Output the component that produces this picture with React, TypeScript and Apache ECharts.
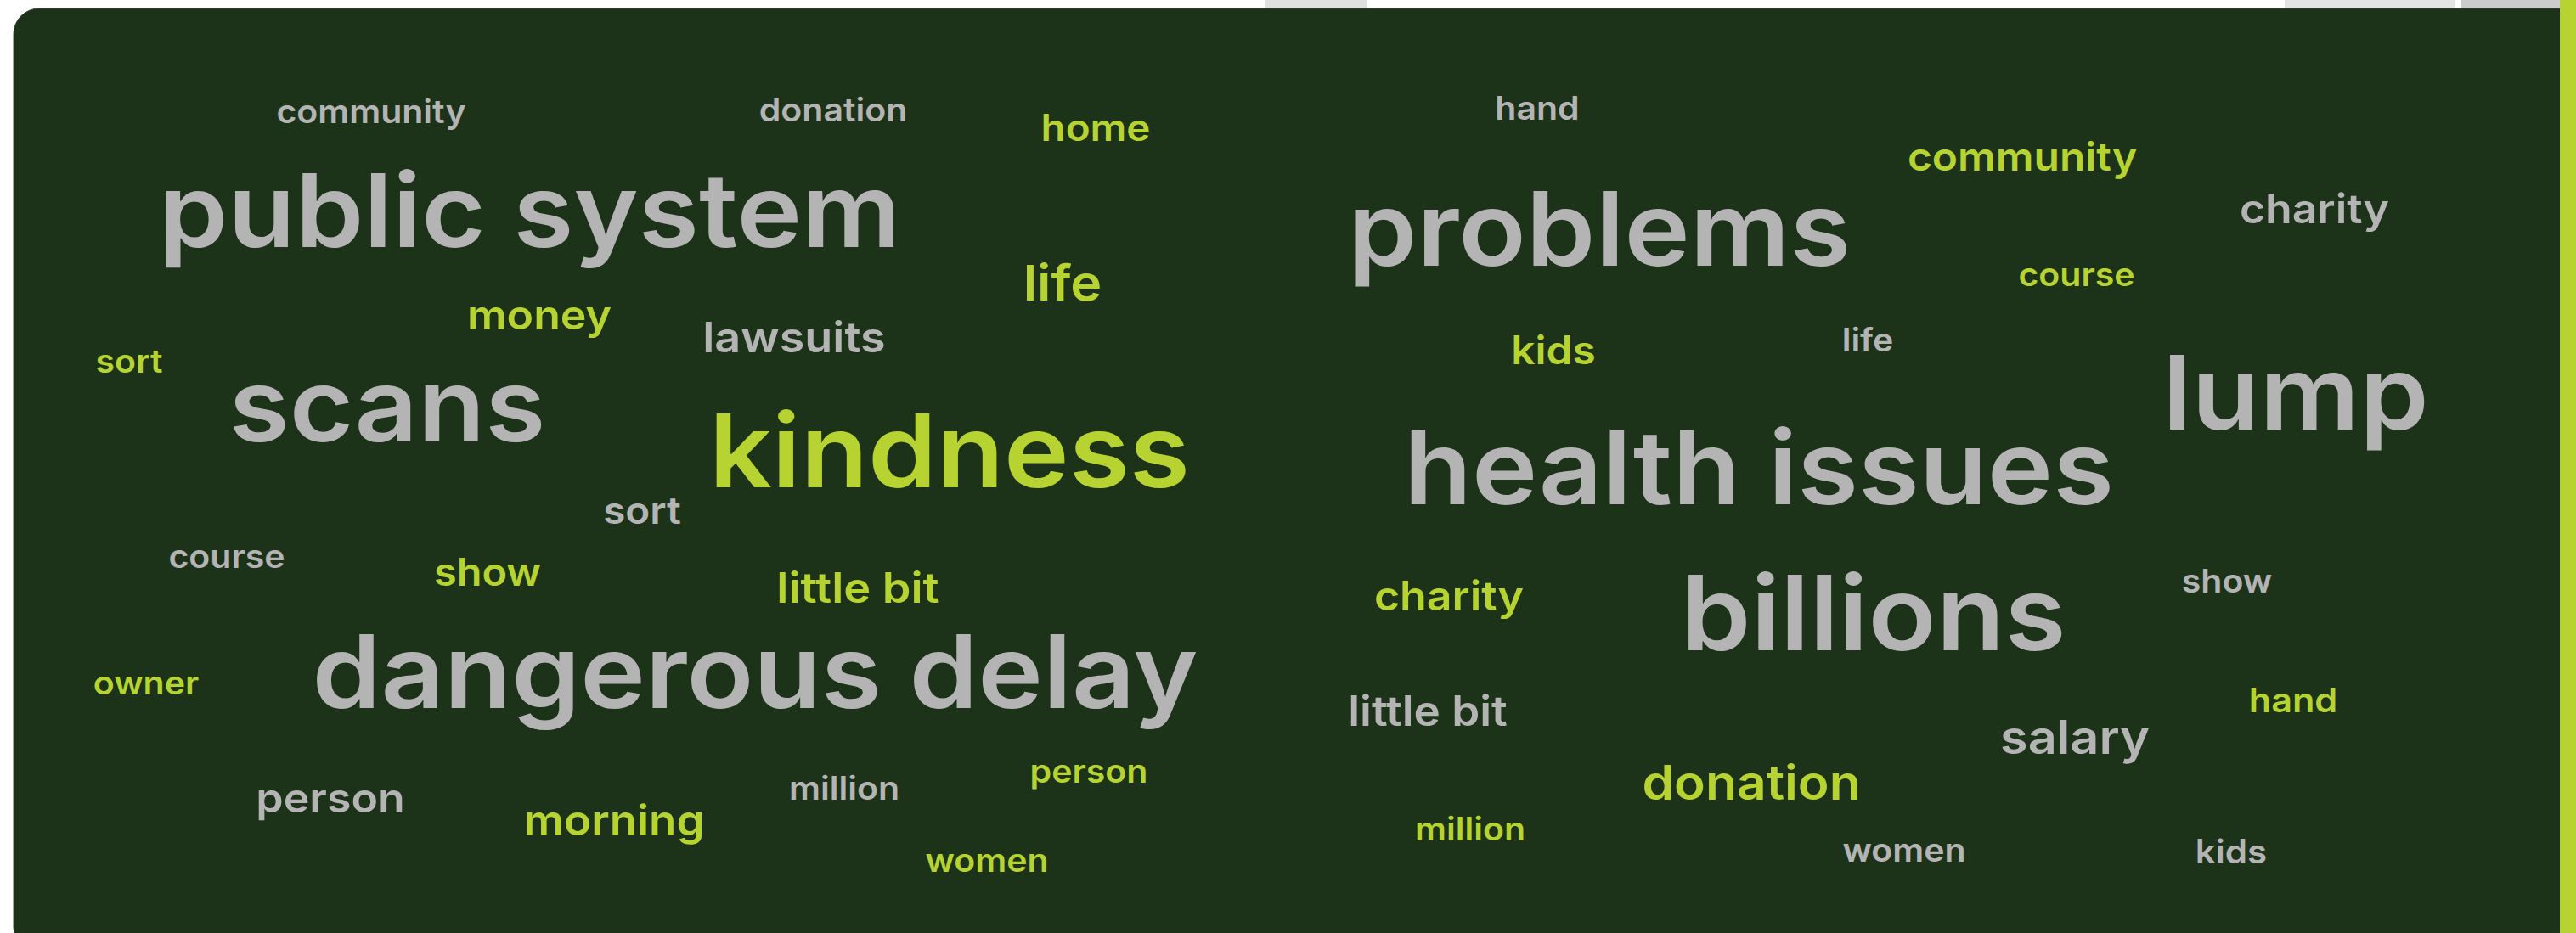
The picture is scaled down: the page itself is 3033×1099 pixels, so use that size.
import React, { useEffect, useRef } from "react";
import * as echarts from "echarts";

// Word cloud data: word, x centre, baseline y (pixel space of the 3033x1099 canvas), font size
const grayWords = ["community", "donation", "public system", "lawsuits", "scans", "sort", "course", "dangerous delay", "person", "million",
  "hand", "charity", "problems", "life", "lump", "health issues", "billions", "show", "little bit", "salary", "women", "kids"];
const grayX = [437, 981, 624, 935, 456, 756, 267, 889, 389, 994,
  1810, 2725, 1883, 2199, 2703, 2071, 2206, 2622, 1681, 2443, 2242, 2627];
const grayY = [145, 143, 290, 415, 519, 617, 669, 833, 957, 942,
  141, 263, 312, 414, 505, 593, 766, 698, 855, 888, 1015, 1017];
const graySize = [38, 38, 120, 50, 120, 44, 38, 120, 48, 38,
  38, 48, 121, 38, 121, 121, 122, 38, 49, 55, 38, 39];

const limeWords = ["home", "life", "money", "sort", "kindness", "show", "little bit", "owner", "morning", "person", "women",
  "community", "course", "kids", "charity", "hand", "donation", "million"];
const limeX = [1290, 1251, 635, 152, 1118, 574, 1010, 172, 723, 1282, 1162,
  2381, 2445, 1829, 1706, 2700, 2062, 1731];
const limeY = [166, 354, 388, 439, 573, 690, 710, 818, 984, 922, 1027,
  201, 337, 429, 719, 839, 942, 990];
const limeSize = [44, 58, 48, 38, 120, 45, 50, 38, 49, 38, 38,
  46, 38, 46, 48, 40, 56, 38];

const W = 3033;
const H = 1099;
const PANEL = "#1c3319";
const GRAY = "#b4b4b4";
const LIME = "#b6d332";
const FONT = "Inter";
const WIDEN = 1.08; // the original face is a little wider than Inter

function wordSeries(name: string, color: string, words: string[], xs: number[], ys: number[], sizes: number[]) {
  return {
    type: "custom",
    name,
    silent: true,
    coordinateSystem: "cartesian2d",
    data: words.map((w, i) => ({ name: w, value: [xs[i], ys[i], sizes[i]] })),
    renderItem: (params: any, api: any) => {
      const p = api.coord([api.value(0), api.value(1)]);
      const fs = api.value(2) as number;
      return {
        type: "text",
        x: p[0],
        y: p[1] - 0.36 * fs,
        scaleX: WIDEN,
        style: {
          text: words[params.dataIndex],
          fill: color,
          fontFamily: FONT,
          fontWeight: 600,
          fontSize: fs,
          align: "center",
          verticalAlign: "middle",
        },
      };
    },
    z: 5,
  };
}

export default function App() {
  const ref = useRef<HTMLDivElement>(null);
  useEffect(() => {
    document.body.style.margin = "0";
    const chart = echarts.init(ref.current!, null, { renderer: "svg" });
    chart.setOption({
      animation: false,
      backgroundColor: "#ffffff",
      grid: { left: 0, right: 0, top: 0, bottom: 0 },
      xAxis: { type: "value", min: 0, max: W, show: false },
      yAxis: { type: "value", min: 0, max: H, inverse: true, show: false },
      graphic: [
        { type: "rect", shape: { x: 1490, y: 0, width: 120, height: 10 }, style: { fill: "#e0e0e0" }, z: -2 },
        { type: "rect", shape: { x: 2690, y: 0, width: 200, height: 10 }, style: { fill: "#e4e4e4" }, z: -2 },
        { type: "rect", shape: { x: 2898, y: 0, width: 120, height: 10 }, style: { fill: "#cccccc" }, z: -2 },
        { type: "rect", shape: { x: 16, y: 10, width: 3000, height: 1110, r: [30, 0, 0, 28] }, style: { fill: PANEL, stroke: "#3a4a38", lineWidth: 1 }, z: -1 },
        { type: "rect", shape: { x: 3014, y: 0, width: 19, height: H }, style: { fill: LIME }, z: 0 },
      ],
      series: [
        wordSeries("gray", GRAY, grayWords, grayX, grayY, graySize),
        wordSeries("lime", LIME, limeWords, limeX, limeY, limeSize),
      ],
    });
    return () => chart.dispose();
  }, []);
  return <div ref={ref} style={{ position: "fixed", left: 0, top: 0, width: W, height: H }} />;
}
